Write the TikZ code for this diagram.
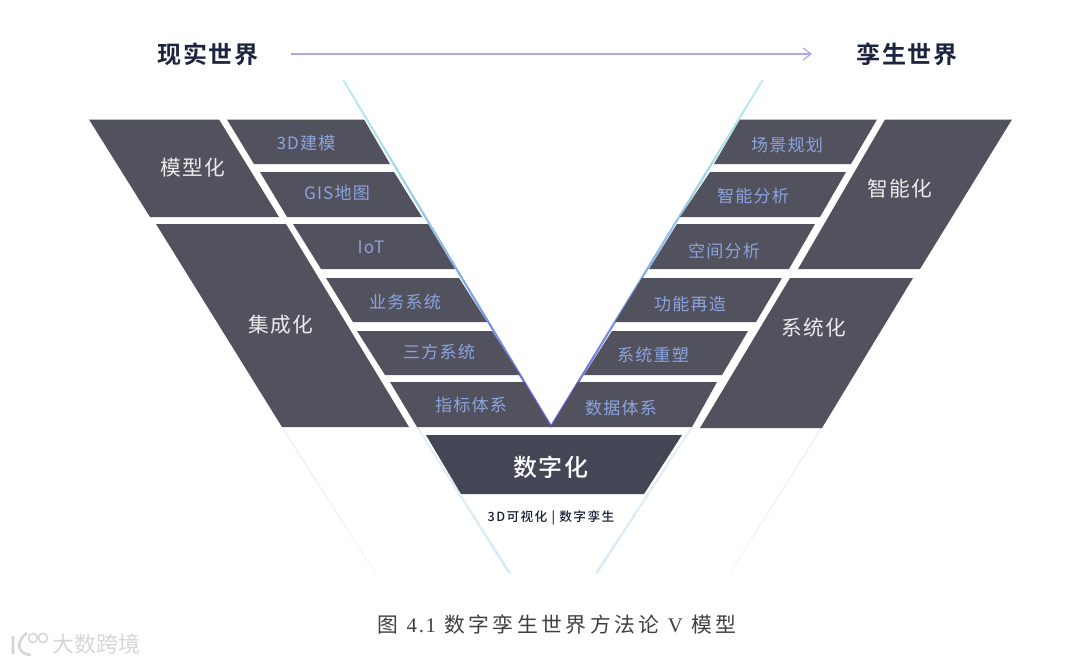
\documentclass[tikz,border=0pt]{standalone}
\usepackage{fontspec}
\setmainfont{Noto Sans CJK SC}
\newfontfamily\capserif[LetterSpace=8]{Liberation Serif}
\newfontfamily\capcjk[LetterSpace=17]{Noto Sans CJK SC}
\newfontfamily\spaced[LetterSpace=7]{Noto Sans CJK SC}
\newfontfamily\smallmedium[LetterSpace=11]{Noto Sans CJK SC Medium}
\newfontfamily\spacedbold[LetterSpace=6,BoldFont={Noto Sans CJK SC Bold}]{Noto Sans CJK SC Medium}
\usetikzlibrary{arrows.meta}
\definecolor{bandgray}{HTML}{52525F}
\definecolor{banddark}{HTML}{434655}
\definecolor{labelblue}{HTML}{8CA3DE}
\definecolor{titlenavy}{HTML}{1C2440}
\definecolor{flowviolet}{HTML}{ABA6E9}
\definecolor{markgray}{HTML}{D6D6D6}
\definecolor{vplum}{HTML}{6258D8}
\definecolor{vblue}{HTML}{7FA6EA}
\definecolor{vteal}{HTML}{A8E0EC}
\definecolor{vmint}{HTML}{CDEFF0}
\definecolor{lowa}{HTML}{D8E8F7}
\definecolor{lowb}{HTML}{E3EEF8}
\definecolor{outa}{HTML}{EEF2F7}
\definecolor{outb}{HTML}{F6F8FA}
\pgfdeclareverticalshading{innerv}{100bp}{
  color(0bp)=(vplum); color(25bp)=(vplum); color(45bp)=(vblue);
  color(65bp)=(vteal); color(78bp)=(vmint); color(100bp)=(white)}
\pgfdeclareverticalshading{lowerv}{100bp}{
  color(0bp)=(lowa); color(25bp)=(lowa); color(75bp)=(lowb); color(100bp)=(lowb)}
\pgfdeclareverticalshading{outerv}{100bp}{
  color(0bp)=(outb); color(25bp)=(outb); color(75bp)=(outa); color(100bp)=(outa)}
\tikzset{
  band/.style={fill=bandgray},
  sublabel/.style={text=labelblue,font=\spaced\fontsize{12.8}{14}\selectfont,inner sep=0pt},
  mainlabel/.style={text=white!92!black,font=\spaced\fontsize{15.5}{17}\selectfont,inner sep=0pt},
  worldlabel/.style={text=titlenavy,font=\spacedbold\bfseries\fontsize{18}{20}\selectfont,inner sep=0pt},
}
\begin{document}
\begin{tikzpicture}[x=0.75pt,y=-0.75pt]
  \useasboundingbox (0,0) rectangle (1080,664);
  % titles
  \node[worldlabel] (real) at (208,54) {现实世界};
  \node[worldlabel] (twin) at (907,54) {孪生世界};
  \draw[flowviolet,line width=0.85pt,-{Straight Barb[length=6pt,width=9pt]},shorten <=24.5pt,shorten >=33.5pt] (real) -- (twin);
  % guide lines of the V
  \shade[shading=outerv] (281,427) -- (283,427) -- (376,573) -- (374,573) -- cycle;
  \shade[shading=outerv] (821,427) -- (823,427) -- (731,573) -- (729,573) -- cycle;
  \shade[shading=lowerv] (416,427) -- (418,427) -- (511,573) -- (508,573) -- cycle;
  \shade[shading=lowerv] (691,427) -- (693,427) -- (598,573) -- (595,573) -- cycle;
  \shade[shading=innerv] (342,80) -- (344.5,80) -- (552.5,427) -- (550,427) -- cycle;
  \shade[shading=innerv] (761.5,80) -- (764,80) -- (552,427) -- (549.5,427) -- cycle;
  % left arm
  \fill[band] (89,119.5) -- (219,119.5) -- (279,217) -- (150,217) -- cycle;
  \fill[band] (156,224) -- (286,224) -- (409,427) -- (282,427) -- cycle;
  \fill[band] (227,119.5) -- (364,119.5) -- (390,164) -- (254,164) -- cycle;
  \fill[band] (260,172) -- (394,172) -- (422,217) -- (287,217) -- cycle;
  \fill[band] (293,224) -- (428,224) -- (455,269) -- (321,269) -- cycle;
  \fill[band] (326,278) -- (459,278) -- (487,322) -- (353,322) -- cycle;
  \fill[band] (357,331) -- (492,331) -- (520,375) -- (385,375) -- cycle;
  \fill[band] (390,382) -- (524,382) -- (551,427) -- (417,427) -- cycle;
  \node[mainlabel] (model) at (193,168) {模型化};
  \node[mainlabel] (integrate) at (281,325) {集成化};
  \node[sublabel] (build) at (306,143) {3D建模};
  \node[sublabel] (gis) at (337,193.5) {GIS地图};
  \node[sublabel] (iot) at (371,247.5) {IoT};
  \node[sublabel] (business) at (405,301.5) {业务系统};
  \node[sublabel] (third) at (439,351.5) {三方系统};
  \node[sublabel] (metric) at (471,405.5) {指标体系};
  % right arm
  \fill[band] (885,119.5) -- (1012,119.5) -- (920,269) -- (798,269) -- cycle;
  \fill[band] (790,278) -- (913,278) -- (822,428) -- (700,428) -- cycle;
  \fill[band] (740,119.5) -- (877,119.5) -- (851,164) -- (714,164) -- cycle;
  \fill[band] (710,172) -- (846,172) -- (820,217) -- (680,217) -- cycle;
  \fill[band] (677,224) -- (815,224) -- (789,269) -- (649,269) -- cycle;
  \fill[band] (642,278) -- (782,278) -- (756,322) -- (615,322) -- cycle;
  \fill[band] (612,331) -- (748,331) -- (722,375) -- (584,375) -- cycle;
  \fill[band] (578,382) -- (717,382) -- (692,427) -- (551,427) -- cycle;
  \node[mainlabel] (smart) at (900,189) {智能化};
  \node[mainlabel] (system) at (814,328) {系统化};
  \node[sublabel] (scene) at (787,145.5) {场景规划};
  \node[sublabel] (smartan) at (753,196.5) {智能分析};
  \node[sublabel] (space) at (724,250.5) {空间分析};
  \node[sublabel] (function) at (690,304.5) {功能再造};
  \node[sublabel] (rebuild) at (653,354.5) {系统重塑};
  \node[sublabel] (data) at (621,408.5) {数据体系};
  % base of the V
  \fill[banddark] (426,435) -- (682,435) -- (644,494) -- (461,494) -- cycle;
  \node[worldlabel,text=white,font=\spacedbold\fontsize{18}{20}\selectfont] (digital) at (551,467) {数字化};
  \node[text=titlenavy!85!black,font=\smallmedium\fontsize{9.5}{10}\selectfont,inner sep=0pt] (visual) at (551,518) {3D可视化 | 数字孪生};
  % caption and mark
  \node[text=black!75,font=\capcjk\fontsize{15.6}{17}\selectfont,inner sep=0pt] (caption) at (557,625)
    {图 {\capserif 4.1} 数字孪生世界方法论 {\capserif V} 模型};
  \draw[markgray,line width=2pt] (13,636) -- (13,654) (27,633) .. controls (15,642) and (17,654) .. (31,655);
  \draw[markgray,line width=1.2pt] (33,638) circle (4.5) (43,638) circle (4.5);
  \node[text=markgray,font=\fontsize{16.5}{18}\selectfont,inner sep=0pt] (logo) at (96,644) {大数跨境};
\end{tikzpicture}
\end{document}
